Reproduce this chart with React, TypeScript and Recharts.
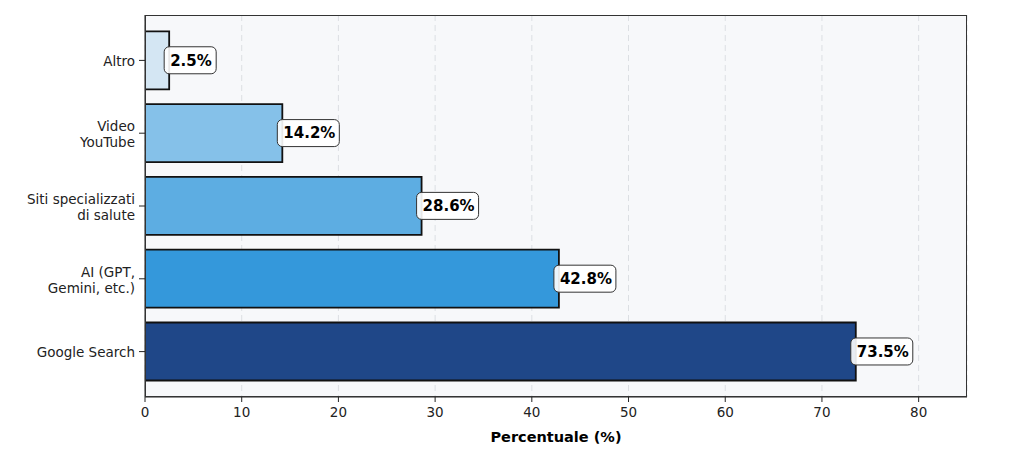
import React from 'react';
import { BarChart, Bar, XAxis, YAxis, CartesianGrid, Cell, LabelList } from 'recharts';

const categories = ['Altro', 'Video\nYouTube', 'Siti specializzati\ndi salute', 'AI (GPT,\nGemini, etc.)', 'Google Search'];
const values = [2.5, 14.2, 28.6, 42.8, 73.5];
const barColors = ['#d4e6f3', '#85c1e9', '#5dade2', '#3498db', '#1f4788'];
const xTicks = [0, 10, 20, 30, 40, 50, 60, 70, 80];

const data = categories.map((name, i) => ({ name, value: values[i] }));

const FONT = '"DejaVu Sans", sans-serif';

// etichetta a più righe per l'asse Y
const YTick = (props: any) => {
  const { x, y, payload } = props;
  const lines: string[] = String(payload.value).split('\n');
  const lh = 16;
  const start = -((lines.length - 1) * lh) / 2 + 1;
  return (
    <g>
      <line x1={x + 2} x2={x + 8} y1={y} y2={y} stroke="#222" strokeWidth={1} />
      <text x={x - 2} y={y} textAnchor="end" fontSize={13.5} fill="#222" fontFamily={FONT}>
        {lines.map((l, i) => (
          <tspan key={i} x={x - 2} y={y + start + i * lh} dy="0.36em">{l}</tspan>
        ))}
      </text>
    </g>
  );
};

// etichetta asse X
const XTick = (props: any) => {
  const { x, y, payload } = props;
  return (
    <text x={x} y={y + 3} dy="0.71em" textAnchor="middle" fontSize={13.5} fill="#222" fontFamily={FONT}>
      {payload.value}
    </text>
  );
};

// box bianco con percentuale
const ValueLabel = (props: any) => {
  const { x, y, width, height, value } = props;
  const txt = `${Number(value).toFixed(1)}%`;
  const endX = x + width;
  const cy = y + height / 2;
  const w = txt.length * 10 + 12;
  return (
    <g>
      <rect x={endX - 5} y={cy - 13.5} width={w} height={27} rx={5} ry={5}
        fill="#ffffff" fillOpacity={0.9} stroke="#333" strokeWidth={1} />
      <text x={endX + 1} y={cy} dy="0.36em" fontSize={15} fontWeight="bold" fill="#000" fontFamily={FONT}>
        {txt}
      </text>
    </g>
  );
};

const App: React.FC = () => {
  return (
    <div style={{ position: 'absolute', left: 0, top: 0, width: 1013, height: 460, background: '#fff', fontFamily: FONT }}>
      <BarChart
        width={1013}
        height={460}
        data={data}
        layout="vertical"
        margin={{ top: 15, right: 46, left: 0, bottom: 18 }}
        barCategoryGap="10%"
      >
        <CartesianGrid horizontal={false} vertical stroke="#dcdfe3" strokeDasharray="6 4" fill="#f7f8fa" />
        <XAxis
          type="number"
          domain={[0, 85]}
          ticks={xTicks}
          allowDataOverflow
          height={45}
          tick={<XTick />}
          tickLine={{ stroke: '#222' }}
          tickSize={5}
          axisLine={{ stroke: '#222' }}
          label={{ value: 'Percentuale (%)', position: 'insideBottom', offset: 0, fill: '#000', fontSize: 14.5, fontWeight: 'bold', fontFamily: FONT }}
        />
        <YAxis
          type="category"
          dataKey="name"
          width={145}
          padding={{ top: 9, bottom: 9 }}
          tick={<YTick />}
          tickLine={false}
          axisLine={{ stroke: '#222' }}
          interval={0}
        />
        <Bar dataKey="value" stroke="#111" strokeWidth={1.8} isAnimationActive={false}>
          {data.map((_, i) => (
            <Cell key={`cell-${i}`} fill={barColors[i]} />
          ))}
          <LabelList dataKey="value" content={<ValueLabel />} />
        </Bar>
      </BarChart>
      <div style={{ position: 'absolute', left: 145, top: 15, width: 822, height: 382, border: '1px solid #333', boxSizing: 'border-box', pointerEvents: 'none' }} />
    </div>
  );
};

export default App;
